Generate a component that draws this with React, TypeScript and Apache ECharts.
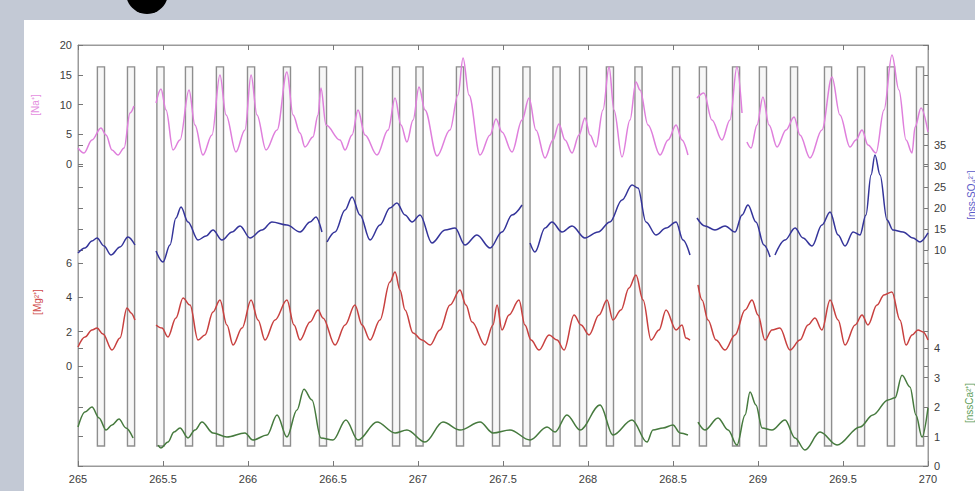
import React, { useEffect, useRef } from "react";
import * as echarts from "echarts";

// ---------- data ----------
const X_MIN = 265;
const X_MAX = 270;
const X_STEP = 0.5;

// centres of the grey reference bars (x units)
const BAR_CENTERS = [
  265.135, 265.312, 265.485, 265.653, 265.835, 266.018, 266.229, 266.441, 266.653,
  266.871, 267.009, 267.247, 267.459, 267.638, 267.815, 267.971, 268.129, 268.297,
  268.518, 268.676, 268.871, 269.029, 269.212, 269.412, 269.606, 269.782, 269.953,
];

// [Na+]
const NA_SEGMENTS: number[][][] = [
  [[265.0, 2.69], [265.035, 1.85], [265.082, 4.03], [265.135, 6.05], [265.165, 4.87], [265.2, 2.35], [265.235, 1.51], [265.271, 2.69], [265.306, 8.57], [265.329, 9.75]],
  [[265.459, 10.25], [265.488, 12.61], [265.518, 9.08], [265.559, 2.35], [265.6, 4.03], [265.653, 12.44], [265.688, 6.55], [265.735, 1.51], [265.788, 4.87], [265.835, 14.96], [265.871, 8.24], [265.929, 2.02], [265.982, 5.71], [266.018, 14.96], [266.053, 8.24], [266.106, 2.35], [266.171, 5.71], [266.229, 15.46], [266.265, 8.24], [266.306, 5.21], [266.335, 2.86], [266.382, 4.54], [266.412, 8.24], [266.429, 12.77], [266.459, 6.55], [266.541, 4.03], [266.571, 2.35], [266.612, 4.87], [266.647, 9.08], [266.688, 4.87], [266.759, 1.51], [266.824, 5.71], [266.865, 11.09], [266.9, 6.55], [266.935, 3.7], [266.971, 7.39], [267.006, 12.94], [267.041, 9.08], [267.112, 1.34], [267.188, 5.71], [267.235, 11.6], [267.265, 17.82], [267.3, 11.6], [267.365, 1.51], [267.424, 4.87], [267.459, 7.56], [267.494, 5.38], [267.553, 2.02], [267.612, 7.39], [267.653, 11.09], [267.694, 5.71], [267.747, 1.01], [267.794, 4.03], [267.829, 6.72], [267.865, 4.03], [267.906, 1.85], [267.947, 4.87], [267.982, 7.73], [268.012, 4.87], [268.047, 2.86], [268.088, 9.08], [268.124, 16.3], [268.153, 9.08], [268.2, 1.18], [268.247, 7.39], [268.282, 13.78], [268.306, 12.44], [268.353, 6.55], [268.424, 1.51], [268.471, 4.03], [268.518, 6.55], [268.553, 4.03], [268.588, 1.51]],
  [[268.641, 11.09], [268.682, 11.93], [268.729, 7.39], [268.788, 4.03], [268.835, 7.39], [268.876, 16.3], [268.906, 8.57]],
  [[268.935, 3.7], [268.959, 2.69], [268.994, 6.55], [269.029, 11.26], [269.065, 6.55], [269.112, 2.86], [269.165, 5.71], [269.212, 7.9], [269.247, 4.87], [269.306, 1.01], [269.376, 5.71], [269.435, 14.62], [269.482, 8.24], [269.541, 2.86], [269.576, 4.03], [269.612, 5.71], [269.647, 3.19], [269.694, 1.85], [269.741, 9.08], [269.788, 18.32], [269.829, 12.44], [269.871, 4.03], [269.906, 1.85], [269.924, 6.22], [269.959, 9.41], [270.0, 5.38]],
];

// [nss-SO4 2-]
const NSS_SEGMENTS: number[][][] = [
  [[265.0, 9.29], [265.041, 10.48], [265.082, 12.14], [265.112, 12.86], [265.153, 10.95], [265.194, 8.81], [265.247, 10.71], [265.294, 13.1], [265.335, 11.19]],
  [[265.459, 9.76], [265.5, 7.14], [265.541, 11.19], [265.576, 17.62], [265.606, 20.24], [265.647, 16.67], [265.706, 12.38], [265.753, 13.33], [265.794, 14.76], [265.847, 12.38], [265.906, 14.29], [265.953, 15.71], [266.012, 12.86], [266.082, 14.76], [266.141, 16.67], [266.229, 15.95], [266.306, 14.29], [266.365, 16.67], [266.4, 17.86], [266.435, 14.29]],
  [[266.465, 11.9], [266.512, 14.29], [266.571, 19.52], [266.612, 22.62], [266.659, 18.33], [266.718, 12.38], [266.776, 15.95], [266.835, 20.0], [266.876, 21.19], [266.924, 18.33], [266.965, 16.67], [267.012, 18.33], [267.082, 11.67], [267.159, 14.76], [267.218, 15.24], [267.276, 11.19], [267.347, 13.57], [267.424, 10.48], [267.494, 14.29], [267.553, 18.33], [267.612, 20.71]],
  [[267.659, 11.67], [267.688, 9.52], [267.747, 15.24], [267.788, 16.67], [267.847, 14.29], [267.906, 15.71], [267.982, 12.86], [268.059, 14.29], [268.129, 16.67], [268.2, 21.9], [268.259, 25.48], [268.294, 24.76], [268.341, 16.67], [268.4, 13.57], [268.459, 15.24], [268.518, 16.67], [268.559, 12.38], [268.6, 8.81]],
  [[268.641, 17.62], [268.688, 15.71], [268.747, 14.76], [268.806, 15.71], [268.865, 14.29], [268.906, 18.33], [268.941, 20.71], [268.988, 16.67], [269.035, 11.19], [269.071, 8.33]],
  [[269.1, 8.81], [269.159, 12.38], [269.218, 15.24], [269.265, 12.86], [269.318, 10.95], [269.376, 15.95], [269.424, 19.05], [269.471, 13.57], [269.512, 10.95], [269.559, 14.29], [269.6, 13.57], [269.635, 18.33], [269.665, 27.86], [269.688, 32.62], [269.718, 27.86], [269.759, 17.14], [269.794, 14.76], [269.853, 14.29], [269.912, 12.86], [269.953, 11.9], [270.0, 14.05]],
];

// [Mg2+]
const MG_SEGMENTS: number[][][] = [
  [[265.0, 1.11], [265.041, 1.69], [265.082, 2.1], [265.112, 2.21], [265.147, 1.86], [265.2, 0.93], [265.247, 1.63], [265.288, 3.38], [265.312, 3.09], [265.335, 2.68]],
  [[265.459, 2.39], [265.494, 2.21], [265.529, 1.69], [265.576, 2.8], [265.618, 3.96], [265.659, 3.55], [265.706, 1.51], [265.747, 1.81], [265.794, 3.14], [265.835, 3.84], [265.876, 2.39], [265.912, 1.22], [265.965, 2.21], [266.018, 3.84], [266.059, 2.68], [266.1, 1.51], [266.159, 2.68], [266.229, 3.84], [266.271, 2.39], [266.306, 1.51], [266.365, 2.56], [266.412, 3.26], [266.441, 2.8], [266.512, 1.22], [266.571, 2.39], [266.629, 3.55], [266.671, 2.39], [266.718, 1.51], [266.776, 2.68], [266.835, 4.89], [266.865, 5.47], [266.894, 4.43], [266.924, 3.26], [266.971, 1.92], [267.024, 1.51], [267.071, 1.22], [267.129, 2.1], [267.188, 3.55], [267.247, 4.43], [267.282, 3.55], [267.318, 2.56], [267.394, 1.22], [267.441, 2.39], [267.465, 3.55], [267.494, 2.1], [267.535, 2.97], [267.594, 3.84], [267.629, 2.39], [267.665, 1.51], [267.712, 0.93], [267.771, 1.81], [267.818, 1.51], [267.859, 0.93], [267.918, 2.97], [267.959, 2.39], [268.006, 1.81], [268.065, 2.97], [268.112, 3.84], [268.147, 2.68], [268.194, 3.26], [268.241, 4.54], [268.282, 5.3], [268.324, 3.84], [268.371, 1.51], [268.418, 2.1], [268.459, 3.26], [268.518, 2.1], [268.553, 2.39], [268.576, 1.63], [268.6, 1.51]],
  [[268.647, 4.72], [268.671, 3.84], [268.706, 2.68], [268.753, 1.51], [268.806, 0.93], [268.865, 1.81], [268.924, 3.26], [268.965, 3.84], [269.0, 2.97], [269.041, 1.51], [269.082, 2.1], [269.129, 2.21], [269.188, 0.93], [269.247, 1.51], [269.294, 2.39], [269.335, 2.8], [269.376, 2.1], [269.424, 3.84], [269.471, 2.68], [269.512, 1.22], [269.571, 2.39], [269.612, 2.97], [269.647, 2.39], [269.7, 3.55], [269.741, 4.14], [269.788, 4.31], [269.835, 2.68], [269.871, 1.22], [269.906, 1.81], [269.941, 2.1], [269.971, 1.98], [270.0, 1.51]],
];

// [nssCa2+]
const CA_SEGMENTS: number[][][] = [
  [[265.0, 1.32], [265.041, 1.83], [265.082, 2.0], [265.124, 1.63], [265.165, 1.22], [265.2, 1.39], [265.241, 1.59], [265.282, 1.29], [265.324, 0.95]],
  [[265.471, 0.71], [265.488, 0.61], [265.529, 0.81], [265.565, 1.15], [265.6, 1.29], [265.647, 0.95], [265.688, 1.22], [265.729, 1.49], [265.794, 1.12], [265.876, 0.98], [265.982, 1.12], [266.029, 0.88], [266.112, 1.05], [266.171, 1.73], [266.229, 0.98], [266.288, 1.9], [266.329, 2.6], [266.376, 2.24], [266.429, 0.95], [266.5, 0.88], [266.576, 1.56], [266.647, 0.88], [266.759, 1.49], [266.865, 1.12], [266.935, 1.22], [267.041, 0.81], [267.147, 1.49], [267.247, 1.22], [267.365, 1.49], [267.441, 1.12], [267.541, 1.22], [267.659, 0.88], [267.759, 1.32], [267.806, 1.15], [267.876, 1.73], [267.953, 1.22], [268.071, 2.07], [268.147, 1.05], [268.259, 1.56], [268.347, 0.81], [268.382, 1.22], [268.441, 1.29], [268.5, 1.39], [268.541, 1.12], [268.588, 1.05]],
  [[268.647, 1.49], [268.688, 1.22], [268.765, 1.63], [268.824, 1.22], [268.876, 0.71], [268.924, 1.73], [268.953, 2.51], [268.988, 2.07], [269.024, 1.29], [269.082, 1.22], [269.159, 1.56], [269.218, 0.95], [269.276, 0.54], [269.365, 1.15], [269.465, 0.71], [269.6, 1.32], [269.676, 1.73], [269.765, 2.24], [269.806, 2.31], [269.847, 3.08], [269.894, 2.68], [269.929, 1.73], [269.965, 0.98], [270.0, 1.97]],
];

const NA_LABEL = "[Na⁺]";
const MG_LABEL = "[Mg²⁺]";
const NSS_LABEL = "[nss-SO₄²⁻]";
const CA_LABEL = "[nssCa²⁺]";

// ---------- styling / layout constants ----------
const PLOT_LEFT = 78;
const PLOT_WIDTH = 850;
const AXIS_GREY = "#9a9a9a";
const TEXT_COLOR = "#3c3c3c";
const FONT = "Liberation Sans, Arial, sans-serif";
const BAR_HALF = 0.021;
const BAR_BOTTOM = 0.0475;
const BAR_TOP = 0.948;

const COLORS = {
  na: "#df7fdc",
  nss: "#34349a",
  mg: "#c8403f",
  ca: "#467a3e",
};

function bandAxis(gridIndex: number, min: number, max: number, interval: number, position: "left" | "right", labels: boolean) {
  return {
    type: "value",
    gridIndex,
    min,
    max,
    interval,
    position,
    axisLine: { show: true, lineStyle: { color: AXIS_GREY, width: 1 } },
    axisTick: { show: true, inside: true, length: 5, lineStyle: { color: "#777" } },
    axisLabel: { show: labels, color: TEXT_COLOR, fontSize: 11, fontFamily: FONT, margin: 6 },
    splitLine: { show: false },
  };
}

function lineSeries(segs: number[][][], xAxisIndex: number, yAxisIndex: number, color: string) {
  return segs.map((seg) => ({
    type: "line",
    xAxisIndex,
    yAxisIndex,
    data: seg,
    smooth: 0.35,
    smoothMonotone: "x",
    showSymbol: false,
    clip: false,
    z: 3,
    lineStyle: { color, width: 1.5 },
  }));
}

export default function App() {
  const ref = useRef<HTMLDivElement>(null);

  useEffect(() => {
    if (!ref.current) return;
    const chart = echarts.init(ref.current, null, { renderer: "svg" });

    const hiddenX = (gridIndex: number) => ({
      type: "value",
      gridIndex,
      min: X_MIN,
      max: X_MAX,
      show: false,
    });

    const option: any = {
      animation: false,
      backgroundColor: "transparent",
      grid: [
        { left: PLOT_LEFT, top: 45, width: PLOT_WIDTH, height: 421, show: true, borderColor: AXIS_GREY, borderWidth: 1 },
        { left: PLOT_LEFT, top: 45, width: PLOT_WIDTH, height: 119 },
        { left: PLOT_LEFT, top: 145, width: PLOT_WIDTH, height: 105 },
        { left: PLOT_LEFT, top: 263, width: PLOT_WIDTH, height: 103 },
        { left: PLOT_LEFT, top: 348, width: PLOT_WIDTH, height: 118 },
      ],
      xAxis: [
        {
          type: "value",
          gridIndex: 0,
          min: X_MIN,
          max: X_MAX,
          interval: X_STEP,
          position: "bottom",
          axisLine: { show: true, lineStyle: { color: AXIS_GREY } },
          axisTick: { show: true, inside: true, length: 5, lineStyle: { color: "#777" } },
          axisLabel: { color: TEXT_COLOR, fontSize: 11, fontFamily: FONT, margin: 7 },
          splitLine: { show: false },
        },
        {
          type: "value",
          gridIndex: 0,
          min: X_MIN,
          max: X_MAX,
          interval: X_STEP,
          position: "top",
          axisLine: { show: true, lineStyle: { color: AXIS_GREY } },
          axisTick: { show: true, inside: true, length: 5, lineStyle: { color: "#777" } },
          axisLabel: { show: false },
          splitLine: { show: false },
        },
        hiddenX(1),
        hiddenX(2),
        hiddenX(3),
        hiddenX(4),
      ],
      yAxis: [
        { type: "value", gridIndex: 0, min: 0, max: 1, show: false },
        bandAxis(1, 0, 20, 5, "left", true),
        bandAxis(1, 0, 20, 5, "right", false),
        bandAxis(2, 10, 35, 5, "right", true),
        bandAxis(2, 10, 35, 5, "left", false),
        bandAxis(3, 0, 6, 2, "left", true),
        bandAxis(3, 0, 6, 2, "right", false),
        bandAxis(4, 0, 4, 1, "right", true),
        bandAxis(4, 0, 4, 1, "left", false),
      ],
      series: [
        {
          type: "custom",
          xAxisIndex: 0,
          yAxisIndex: 0,
          z: 1,
          silent: true,
          data: BAR_CENTERS.map((c) => [c, 0]),
          renderItem: (params: any, api: any) => {
            const x = api.value(0);
            const tl = api.coord([x - BAR_HALF, BAR_TOP]);
            const br = api.coord([x + BAR_HALF, BAR_BOTTOM]);
            return {
              type: "rect",
              shape: { x: tl[0], y: tl[1], width: br[0] - tl[0], height: br[1] - tl[1] },
              style: { fill: "rgba(240,240,240,0.55)", stroke: "#8e8e8e", lineWidth: 1.4 },
            };
          },
        },
        ...lineSeries(NA_SEGMENTS, 2, 1, COLORS.na),
        ...lineSeries(NSS_SEGMENTS, 3, 3, COLORS.nss),
        ...lineSeries(MG_SEGMENTS, 4, 5, COLORS.mg),
        ...lineSeries(CA_SEGMENTS, 5, 7, COLORS.ca),
      ],
      graphic: [
        { type: "circle", shape: { cx: 147, cy: -7, r: 21 }, style: { fill: "#000" }, silent: true },
        {
          type: "text", x: 35, y: 105, rotation: Math.PI / 2, silent: true,
          style: { text: NA_LABEL, fill: "#e48ee0", font: `10px ${FONT}`, align: "center", verticalAlign: "middle" },
        },
        {
          type: "text", x: 37, y: 302, rotation: Math.PI / 2, silent: true,
          style: { text: MG_LABEL, fill: "#d04a4a", font: `10px ${FONT}`, align: "center", verticalAlign: "middle" },
        },
        {
          type: "text", x: 971, y: 195, rotation: Math.PI / 2, silent: true,
          style: { text: NSS_LABEL, fill: "#5a5ac8", font: `10px ${FONT}`, align: "center", verticalAlign: "middle" },
        },
        {
          type: "text", x: 969, y: 403, rotation: Math.PI / 2, silent: true,
          style: { text: CA_LABEL, fill: "#5ea05a", font: `10px ${FONT}`, align: "center", verticalAlign: "middle" },
        },
      ],
    };

    chart.setOption(option);
    return () => chart.dispose();
  }, []);

  return (
    <div style={{ position: "fixed", left: 0, top: 0, width: 975, height: 491, background: "#c3c9d5", overflow: "hidden" }}>
      <div style={{ position: "absolute", left: 24, top: 20, width: 951, height: 471, background: "#ffffff" }} />
      <div ref={ref} style={{ position: "absolute", left: 0, top: 0, width: 975, height: 491 }} />
    </div>
  );
}
